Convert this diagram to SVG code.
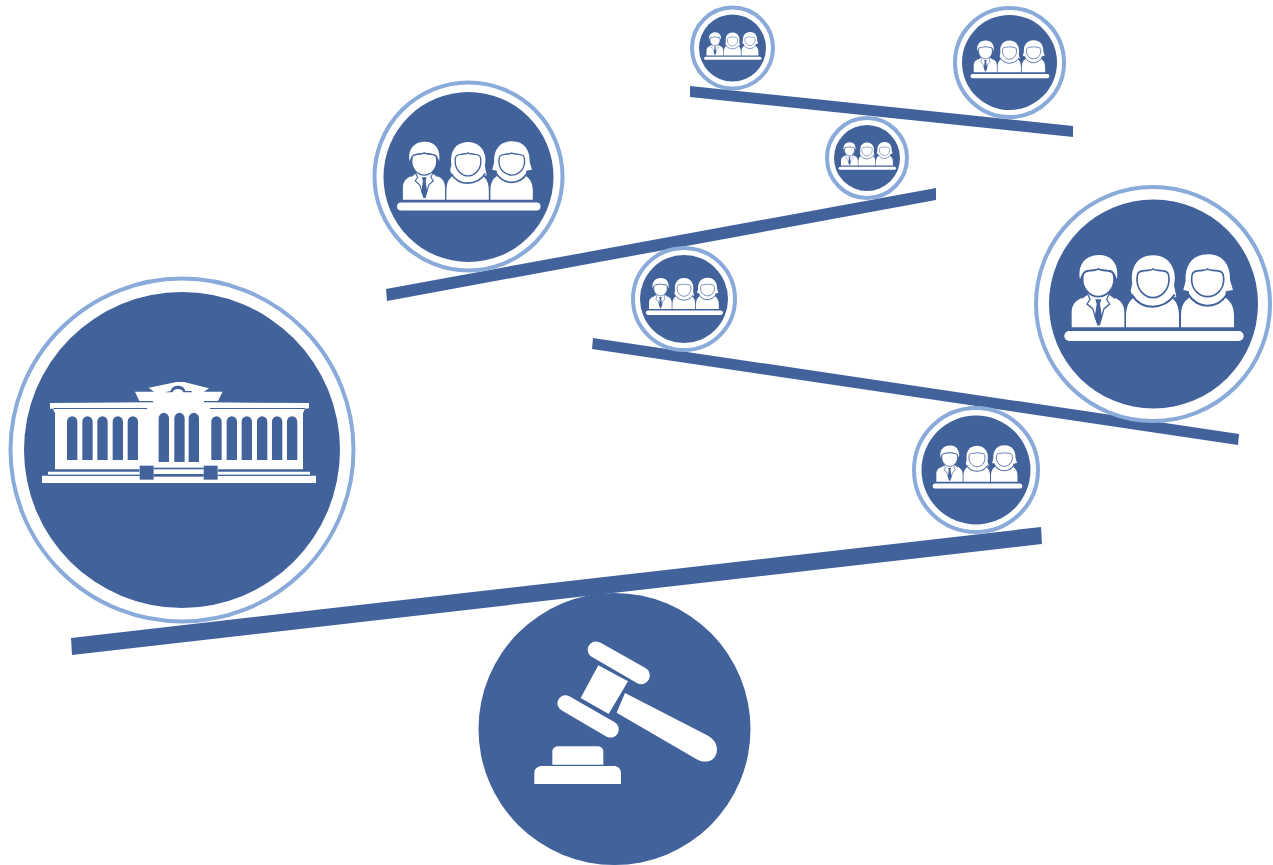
<svg xmlns="http://www.w3.org/2000/svg" width="1273" height="865" viewBox="0 0 1273 865">
<style>
.ring{fill:#fff;stroke:#8aaada}
.disc,.beam{fill:#42629c}
.w{fill:#fff}
.wl{fill:#fff;stroke:#42629c;stroke-width:5}
.ln{fill:none;stroke:#42629c;stroke-width:6}
</style>
<defs>
<g id="people" transform="translate(-339 -222)">
<rect class="w" x="73" y="303" width="538" height="30" rx="15"/>
<!-- man -->
<path class="w" d="M95 292V248C95 222 108 212 125 204L146 190H204L225 204C243 212 253 224 253 248V292Z"/>
<path class="ln" style="stroke-width:4" d="M125 205L143 192L150 208L141 222L158 236L174 286M225 205L207 192L200 208L209 222L192 236L178 286"/>
<path class="disc" d="M166 208H184L180 222L186 262L175 288L164 262L170 222Z"/>
<path class="w" d="M120 148C112 100 140 76 175 75C212 73 238 100 231 148C224 128 222 122 205 120C192 118 182 120 175 114C168 120 155 118 145 120C130 122 126 130 120 148Z"/>
<path class="wl" d="M128 145C128 128 133 124 149 122C160 120 170 122 175 117C180 122 190 120 201 122C217 124 222 128 222 145C224 178 198 200 175 200C152 200 126 178 128 145Z"/>
<!-- woman 2 -->
<path class="w" d="M258 292V258C258 228 268 214 280 204L272 182L277 160C272 130 280 76 340 76C395 76 412 130 402 165L409 200L396 204C408 214 417 228 417 258V292Z"/>
<path class="ln" d="M276 194C290 218 314 230 338 230C362 230 388 218 404 194"/>
<path class="wl" d="M291 145C291 128 296 124 312 122C324 120 334 122 339 117C344 122 354 120 366 122C382 124 387 128 387 145C389 180 362 203 339 203C316 203 289 180 291 145Z"/>
<!-- woman 3 -->
<path class="w" d="M423 292V258C423 228 433 212 447 204V184L430 180L437 152C435 108 455 74 503 73C552 72 572 110 570 150L579 180L557 184V204C572 214 582 230 582 258V292Z"/>
<path class="ln" d="M443 191C458 214 480 227 502 227C525 227 548 214 562 191"/>
<path class="wl" d="M455 145C455 128 460 124 476 122C488 120 498 122 503 117C508 122 518 120 530 122C546 124 551 128 551 145C553 180 526 200 503 200C480 200 453 180 455 145Z"/>
</g>
</defs>
<g id="connectors">
<polygon class="beam" points="71,638 1041,527 1042,544 72,655"/>
<polygon class="beam" points="593,338 1239,434 1238,445 592,349"/>
<polygon class="beam" points="386,289 936,188 936,200 387,301"/>
<polygon class="beam" points="690,86 1073,126 1073,137 690,97"/>
</g>
<g id="node-court">
<circle class="ring" cx="182" cy="450" r="171.500" stroke-width="4"/>
<circle class="disc" cx="182" cy="450" r="158"/>
<g transform="translate(0 360) scale(.3333)">
<path class="w" d="M446 83L530 66H552L627 85L612 95L668 95L654 123H612V127L927 129V145L915 146L909 160V328H654V335H930V347H948V369H126V347H144V335H418V328H165V160L159 146H150V129L459 127V123H418L405 95H462Z"/>
<g class="disc">
<path d="M201 300V185A15 16 0 0 1 232 185V300ZM247 300V185A15 16 0 0 1 278 185V300ZM292 300V185A15 16 0 0 1 323 185V300ZM338 300V185A15 16 0 0 1 369 185V300ZM383 300V185A15 16 0 0 1 414 185V300Z"/>
<path d="M634 300V185A15 16 0 0 1 665 185V300ZM680 300V185A15 16 0 0 1 711 185V300ZM725 300V185A15 16 0 0 1 756 185V300ZM771 300V185A15 16 0 0 1 802 185V300ZM816 300V185A15 16 0 0 1 847 185V300ZM861 300V185A15 16 0 0 1 892 185V300Z"/>
<path d="M476 306V175A15 16 0 0 1 507 175V306ZM523 306V175A15 16 0 0 1 554 175V306ZM566 306V175A15 16 0 0 1 597 175V306Z"/>
<rect x="419" y="317" width="42" height="42"/>
<rect x="611" y="317" width="42" height="42"/>
<rect x="461" y="323" width="150" height="5"/>
<rect x="461" y="342" width="150" height="8"/>
<rect x="144" y="344" width="275" height="4"/>
<rect x="653" y="344" width="277" height="4"/>
<path d="M160 147L441 147V144L160 144ZM630 147H915V144H630Z"/>
<path d="M494 97L512 93C516 72 552 72 556 93L575 93V97H550C546 84 522 84 518 97Z"/>
</g>
</g>
</g>
<g id="node-gavel">
<circle class="disc" cx="614.500" cy="729" r="136"/>
<g transform="translate(510 620) scale(.3333)">
<path class="w" d="M265 66L272 68L405 143A24 24 0 0 1 382 190L250 113A24 24 0 0 1 265 66Z"/>
<path class="w" d="M169 226L178 229L313 306A24 24 0 0 1 290 350L157 272A24 24 0 0 1 169 226Z"/>
<polygon class="w" points="265,136 354,184 296,282 212,234"/>
<path class="w" d="M345 219L590 345C612 356 625 375 620 398C614 424 585 432 560 418L320 278Z"/>
<path class="w" d="M127 434V395C127 385 135 379 147 379H262C274 379 280 386 280 396V434Z"/>
<path class="w" d="M73 492V458C73 445 84 438 98 438H310C324 438 333 446 333 460V492Z"/>
</g>
</g>
<g id="node-p1">
<circle class="ring" cx="1153" cy="304" r="117" stroke-width="4"/>
<circle class="disc" cx="1153.500" cy="304" r="104.500"/>
<use href="#people" transform="translate(1153 304) scale(.3333)"/>
</g>
<g id="node-p2">
<circle class="ring" cx="468.500" cy="176.500" r="94" stroke-width="4"/>
<circle class="disc" cx="468.500" cy="177" r="85"/>
<use href="#people" transform="translate(468 181) scale(.2667)"/>
</g>
<g id="node-p3">
<circle class="ring" cx="976" cy="470" r="62" stroke-width="4"/>
<circle class="disc" cx="976" cy="470" r="54.500"/>
<use href="#people" transform="translate(977 470) scale(.1667)"/>
</g>
<g id="node-p4">
<circle class="ring" cx="684" cy="299" r="51" stroke-width="4"/>
<circle class="disc" cx="684" cy="299" r="44"/>
<use href="#people" transform="translate(684 299) scale(.1433)"/>
</g>
<g id="node-p5">
<circle class="ring" cx="867" cy="158" r="40" stroke-width="4"/>
<circle class="disc" cx="867" cy="158" r="33"/>
<use href="#people" transform="translate(867 158) scale(.1067)"/>
</g>
<g id="node-p6">
<circle class="ring" cx="732.500" cy="48" r="40.500" stroke-width="4"/>
<circle class="disc" cx="732.500" cy="48" r="33.500"/>
<use href="#people" transform="translate(732.500 48) scale(.1067)"/>
</g>
<g id="node-p7">
<circle class="ring" cx="1009.500" cy="62.500" r="54.500" stroke-width="4"/>
<circle class="disc" cx="1009.500" cy="62.500" r="47.500"/>
<use href="#people" transform="translate(1009.500 62) scale(.1467)"/>
</g>
</svg>
